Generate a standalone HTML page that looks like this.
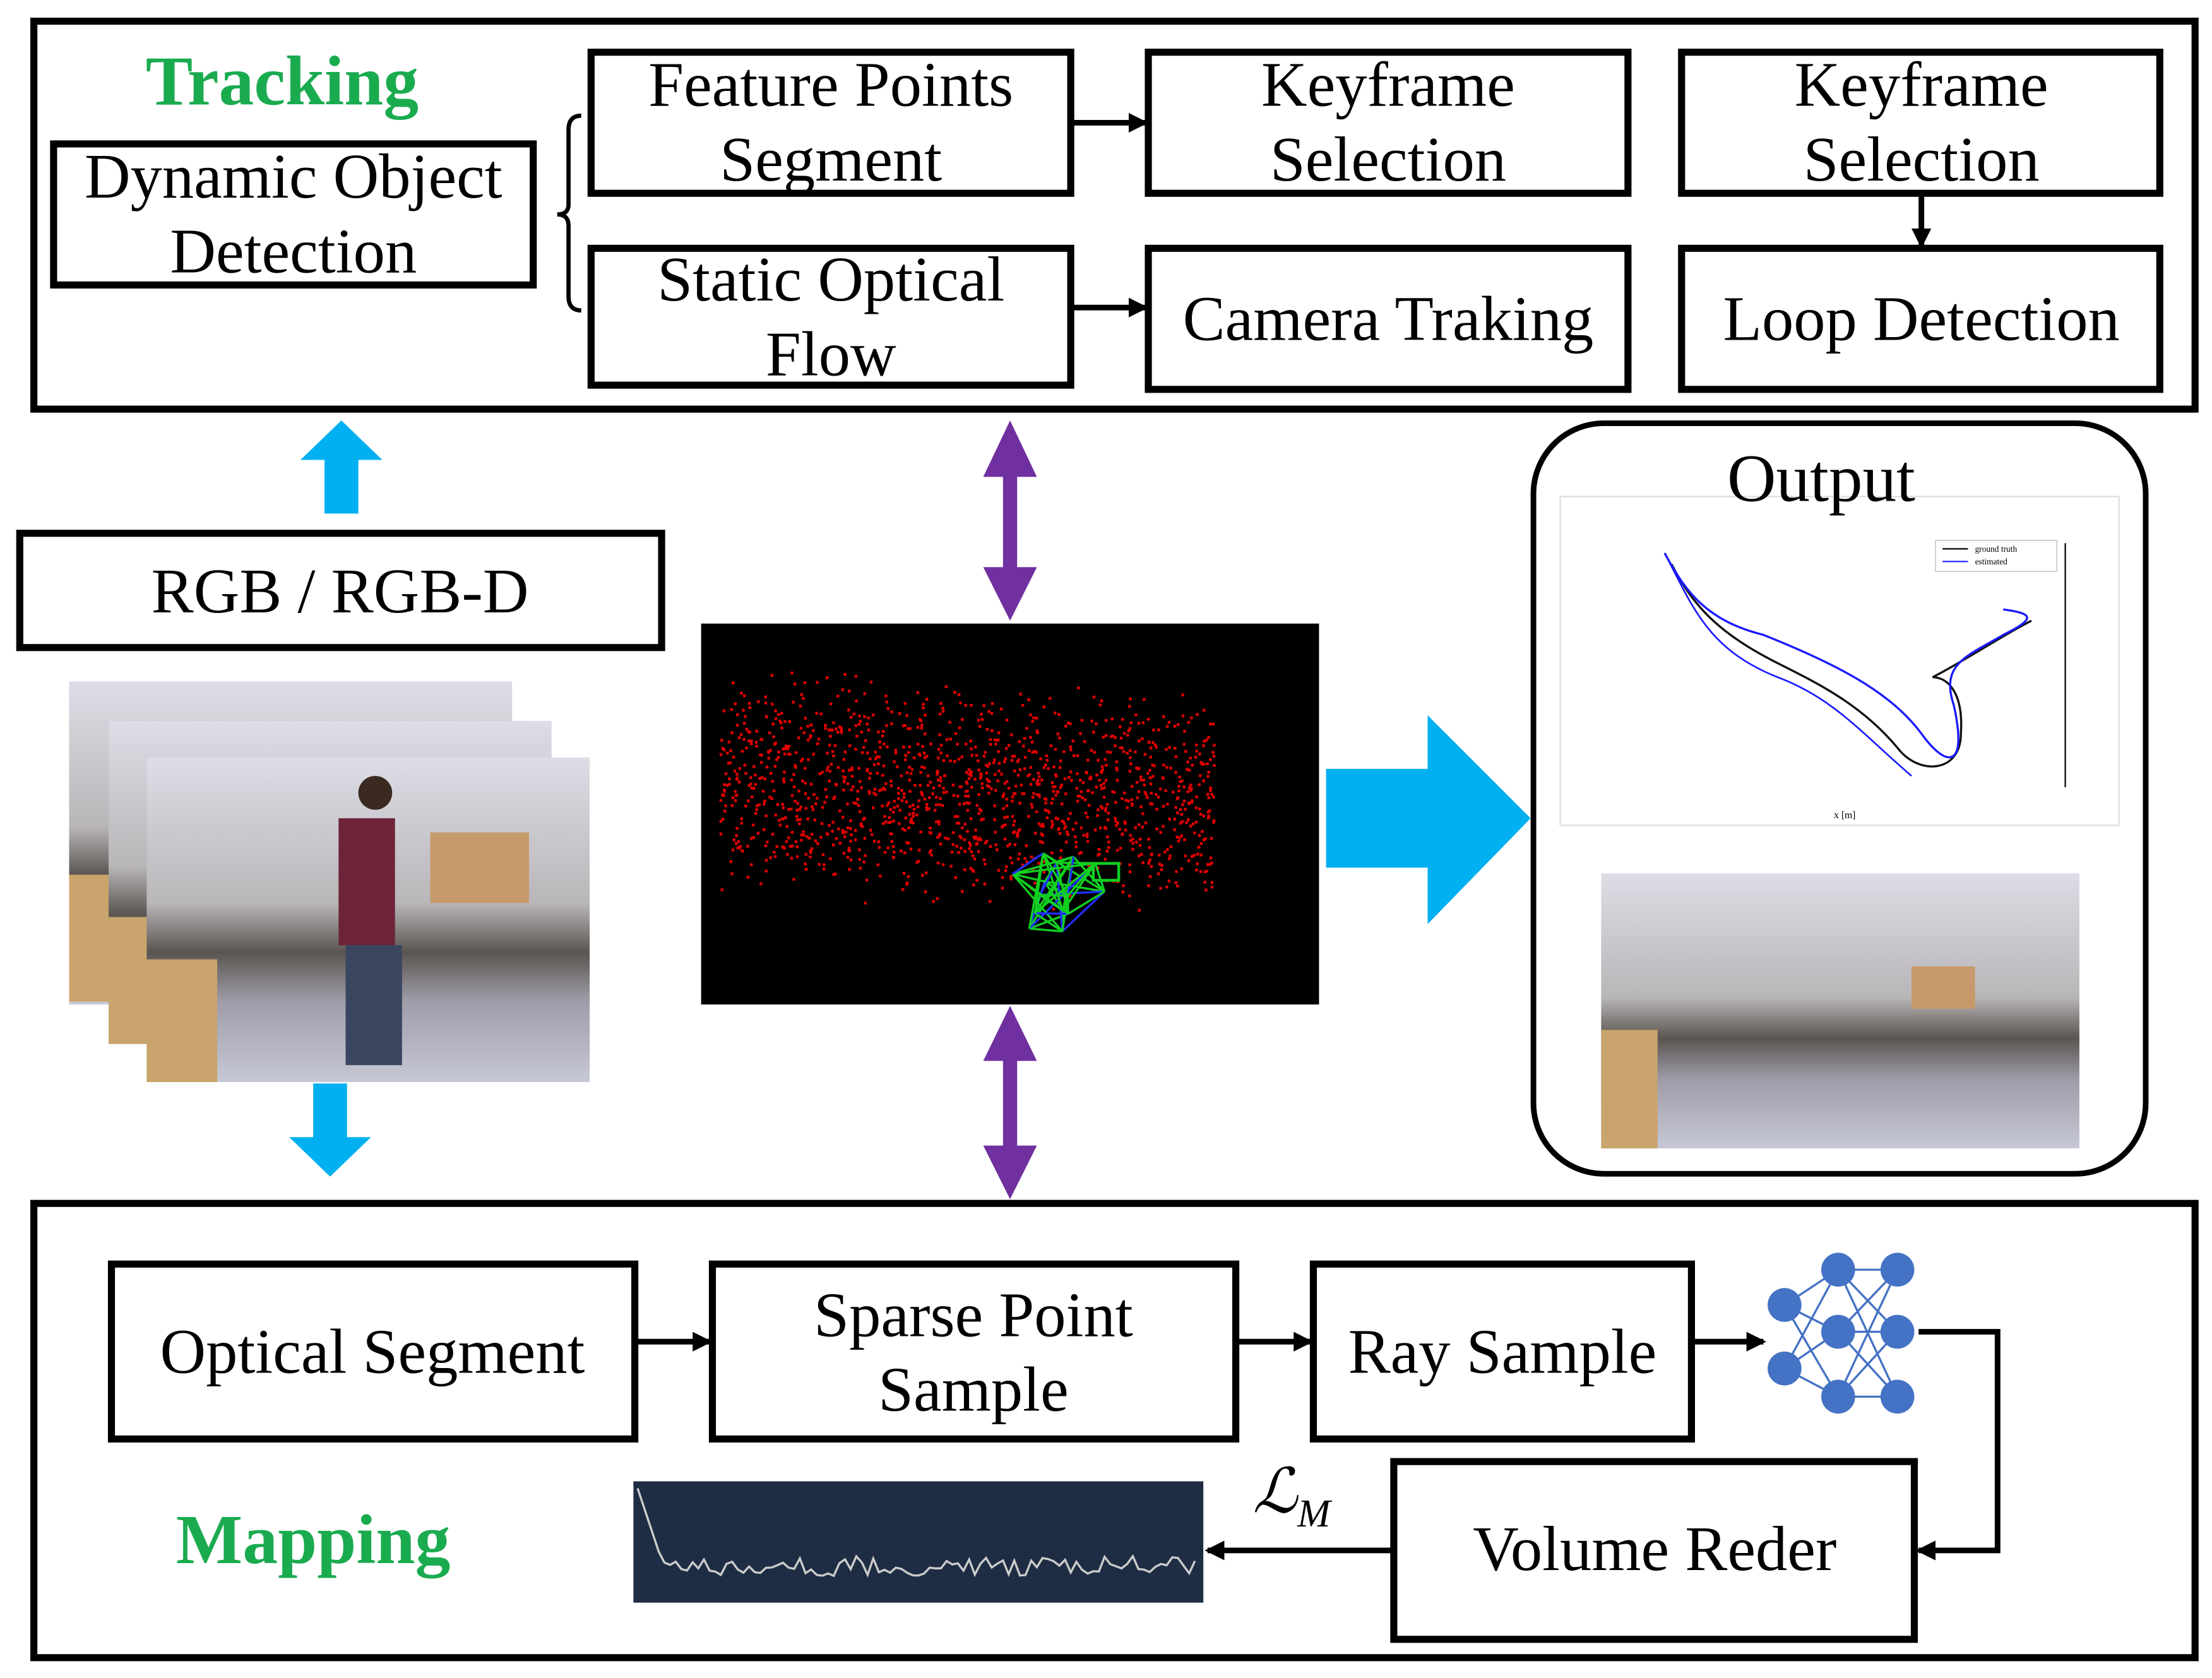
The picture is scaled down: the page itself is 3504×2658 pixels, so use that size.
<!DOCTYPE html>
<html><head><meta charset="utf-8"><style>
html,body{margin:0;padding:0;background:#fff;}
svg{display:block;}
text{font-family:"Liberation Serif",serif;fill:#000;}
</style></head><body>
<svg id="s" width="3504" height="2658" viewBox="0 0 1568 1189.4" xmlns="http://www.w3.org/2000/svg">
<defs>
<marker id="ah" markerWidth="14" markerHeight="14" refX="12" refY="7" orient="auto" markerUnits="userSpaceOnUse"><path d="M0,0 L14,7 L0,14 z" fill="#000"/></marker>
<linearGradient id="ph" x1="0" y1="0" x2="0" y2="1"><stop offset="0" stop-color="#dcdde6"/><stop offset="0.45" stop-color="#b9b6b8"/><stop offset="0.6" stop-color="#5a5550"/><stop offset="0.75" stop-color="#9e9ca8"/><stop offset="1" stop-color="#c7c8d6"/></linearGradient>
</defs>
<rect x="0" y="0" width="1568" height="1189.4" fill="#fff"/>
<rect x="24" y="15" width="1532" height="275" fill="none" stroke="#000" stroke-width="5"/>
<text x="200" y="74" font-size="50" font-weight="bold" text-anchor="middle" style="fill:#1aab4f">Tracking</text>
<g fill="none" stroke="#000" stroke-width="5">
<rect x="38" y="102" width="340" height="100"/>
<rect x="419" y="37" width="340" height="100"/>
<rect x="419" y="176" width="340" height="97"/>
<rect x="814" y="37" width="340" height="100"/>
<rect x="814" y="176" width="340" height="100"/>
<rect x="1192" y="37" width="339" height="100"/>
<rect x="1192" y="176" width="339" height="100"/>
</g>
<path d="M412,82 Q403,82 403,92 L403,145 Q403,152 395,152 Q403,152 403,160 L403,210 Q403,220 412,220" fill="none" stroke="#000" stroke-width="3"/>
<g font-size="45" text-anchor="middle">
<text x="208" y="140">Dynamic Object</text><text x="208" y="193">Detection</text>
<text x="589" y="75">Feature Points</text><text x="589" y="128">Segment</text>
<text x="589" y="213">Static Optical</text><text x="589" y="266">Flow</text>
<text x="984" y="75">Keyframe</text><text x="984" y="128">Selection</text>
<text x="984" y="241">Camera Traking</text>
<text x="1362" y="75">Keyframe</text><text x="1362" y="128">Selection</text>
<text x="1362" y="241">Loop Detection</text>
</g>
<g stroke="#000" stroke-width="4" marker-end="url(#ah)">
<line x1="761" y1="87" x2="812" y2="87"/>
<line x1="761" y1="218" x2="812" y2="218"/>
<line x1="1362" y1="139" x2="1362" y2="174"/>
</g>
<path d="M230,364 L254,364 L254,326 L271,326 L242,298 L213,326 L230,326 z" fill="#00b0f0"/>
<path d="M222,768 L246,768 L246,806 L263,806 L234,834 L205,806 L222,806 z" fill="#00b0f0"/>
<path d="M940,545 L1012,545 L1012,507 L1085,580 L1012,655 L1012,615 L940,615 z" fill="#00b0f0"/>
<g fill="#7030a0">
<rect x="711" y="325" width="10" height="90"/>
<path d="M697,338 L716,298 L735,338 z"/><path d="M697,402 L716,440 L735,402 z"/>
<rect x="711" y="740" width="10" height="85"/>
<path d="M697,752 L716,713 L735,752 z"/><path d="M697,812 L716,850 L735,812 z"/>
</g>
<rect x="14" y="378" width="455" height="81" fill="none" stroke="#000" stroke-width="5"/>
<text x="241" y="434" font-size="45" text-anchor="middle">RGB / RGB-D</text>
<rect x="49" y="483" width="314" height="229" fill="url(#ph)"/>
<rect x="49" y="620" width="30" height="90" fill="#c9a46c"/>
<rect x="77" y="511" width="314" height="229" fill="url(#ph)"/>
<rect x="77" y="650" width="30" height="90" fill="#c9a46c"/>
<rect x="104" y="537" width="314" height="230" fill="url(#ph)"/>
<rect x="104" y="680" width="50" height="87" fill="#c9a46c"/>
<rect x="305" y="590" width="70" height="50" fill="#c69a6a"/>
<rect x="240" y="580" width="40" height="90" fill="#6e2438"/>
<rect x="245" y="670" width="40" height="85" fill="#3a4660"/>
<circle cx="266" cy="562" r="12" fill="#3a2a20"/>
<rect x="497" y="442" width="438" height="270" fill="#000"/>
<g id="dots" fill="#e00000"></g>
<g id="cl" stroke="#10d020" stroke-width="1.5" fill="none"></g>
<rect x="775" y="612" width="18" height="12" fill="none" stroke="#10d020" stroke-width="2"/>
<rect x="1087" y="300" width="434" height="532" rx="50" fill="none" stroke="#000" stroke-width="4"/>
<rect x="1106" y="352" width="396" height="233" fill="#fff" stroke="#ddd" stroke-width="1"/>
<text x="1291" y="355" font-size="48" text-anchor="middle">Output</text>
<line x1="1464" y1="385" x2="1464" y2="558" stroke="#000" stroke-width="1"/>
<rect x="1372" y="383" width="86" height="22" fill="#fff" stroke="#ccc" stroke-width="0.8"/>
<line x1="1377" y1="389" x2="1395" y2="389" stroke="#000"/><line x1="1377" y1="398" x2="1395" y2="398" stroke="#1a1aff"/>
<text x="1400" y="391" font-size="6" font-family="Liberation Sans">ground truth</text>
<text x="1400" y="400" font-size="6" font-family="Liberation Sans">estimated</text>
<path d="M1185,400 C1200,430 1220,450 1260,470 C1290,485 1320,500 1345,530 C1360,550 1390,548 1390,520 C1392,490 1380,480 1370,480 C1390,470 1420,450 1440,440" fill="none" stroke="#111" stroke-width="1.5"/>
<path d="M1180,392 C1195,420 1210,440 1250,450 C1300,470 1340,490 1362,520 C1380,545 1395,545 1385,500 C1375,470 1395,465 1420,450 C1440,440 1445,435 1420,432" fill="none" stroke="#1a1aff" stroke-width="1.5"/>
<path d="M1180,392 C1200,430 1210,460 1260,480 C1300,495 1320,520 1355,550" fill="none" stroke="#1a1aff" stroke-width="1.2"/>
<text x="1300" y="580" font-size="7" font-family="Liberation Sans">x [m]</text>
<rect x="1135" y="619" width="339" height="195" fill="url(#ph)"/>
<rect x="1135" y="730" width="40" height="84" fill="#c9a46c"/>
<rect x="1355" y="685" width="45" height="30" fill="#c69a6a"/>
<rect x="24" y="853" width="1532" height="322" fill="none" stroke="#000" stroke-width="5"/>
<g fill="none" stroke="#000" stroke-width="5">
<rect x="79" y="896" width="371" height="124"/>
<rect x="505" y="896" width="371" height="124"/>
<rect x="931" y="896" width="268" height="124"/>
<rect x="988" y="1036" width="369" height="126"/>
</g>
<g font-size="45" text-anchor="middle">
<text x="264" y="973">Optical Segment</text>
<text x="690" y="947">Sparse Point</text><text x="690" y="1000">Sample</text>
<text x="1065" y="973">Ray Sample</text>
<text x="1173" y="1113">Volume Reder</text>
</g>
<text x="222" y="1108" font-size="50" font-weight="bold" text-anchor="middle" style="fill:#1aab4f">Mapping</text>
<g stroke="#000" stroke-width="4" fill="none">
<line x1="452" y1="951" x2="503" y2="951" marker-end="url(#ah)"/>
<line x1="878" y1="951" x2="929" y2="951" marker-end="url(#ah)"/>
<line x1="1201" y1="951" x2="1250" y2="951" marker-end="url(#ah)"/>
<polyline points="1360,944 1416,944 1416,1099 1360,1099" marker-end="url(#ah)"/>
<line x1="986" y1="1099" x2="856" y2="1099" marker-end="url(#ah)"/>
</g>
<g stroke="#4472c4" stroke-width="1.5"><g id="nl"></g></g>
<g fill="#4472c4" id="nn"></g>
<text x="888" y="1072" font-size="44" font-style="italic">ℒ<tspan font-size="28" dy="10">M</tspan></text>
<rect x="449" y="1050" width="404" height="86" fill="#1f2d44"/>
<polyline id="loss" fill="none" stroke="#ccc" stroke-width="1.5" points=""/>
</svg>
<script>
var s=1;function r(){s=(s*16807)%2147483647;return s/2147483647;}
var ns="http://www.w3.org/2000/svg",d=document.getElementById("dots");
for(var i=0;i<1400;i++){var x=510+r()*350,y=480+r()*200;var cy=560+ (x-680)*0.05;var dy=(r()-0.5)*150;y=cy+dy*(0.5+r()*0.6);if(y<470||y>700)continue;var c=document.createElementNS(ns,"rect");c.setAttribute("x",x.toFixed(1));c.setAttribute("y",y.toFixed(1));c.setAttribute("width",2);c.setAttribute("height",2);d.appendChild(c);}
var g=document.getElementById("cl");var pts=[];for(i=0;i<14;i++)pts.push([715+r()*75,600+r()*70]);
for(i=0;i<pts.length;i++)for(var j=i+1;j<pts.length;j+=2){var l=document.createElementNS(ns,"line");l.setAttribute("x1",pts[i][0]);l.setAttribute("y1",pts[i][1]);l.setAttribute("x2",pts[j][0]);l.setAttribute("y2",pts[j][1]);if(r()<0.3)l.setAttribute("stroke","#2030ff");g.appendChild(l);}
var L=[[1265,925],[1265,970],[1303,900],[1303,944],[1303,990],[1345,900],[1345,944],[1345,990]];
var nl=document.getElementById("nl"),nn=document.getElementById("nn");
function ln(a,b){var l=document.createElementNS(ns,"line");l.setAttribute("x1",a[0]);l.setAttribute("y1",a[1]);l.setAttribute("x2",b[0]);l.setAttribute("y2",b[1]);nl.appendChild(l);}
for(i=0;i<2;i++)for(j=2;j<5;j++)ln(L[i],L[j]);for(i=2;i<5;i++)for(j=5;j<8;j++)ln(L[i],L[j]);
L.forEach(function(p){var c=document.createElementNS(ns,"circle");c.setAttribute("cx",p[0]);c.setAttribute("cy",p[1]);c.setAttribute("r",12);nn.appendChild(c);});
var p="452,1055 ";for(var x=455;x<850;x+=4){var y=x<470?1055+(x-452)*3:1110+(r()-0.5)*14;if(y>1125)y=1125;p+=x+","+y.toFixed(1)+" ";}
document.getElementById("loss").setAttribute("points",p);
</script>
</body></html>
